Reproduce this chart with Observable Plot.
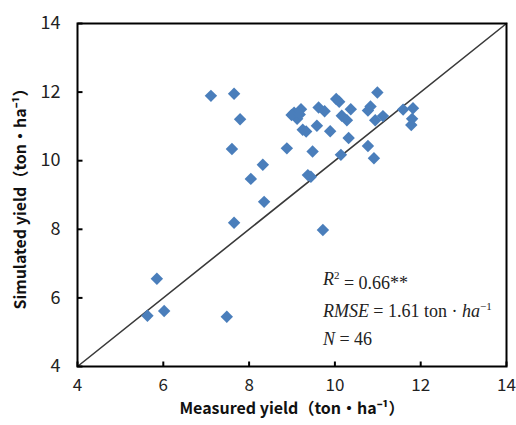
<!DOCTYPE html>
<html>
<head>
<meta charset="utf-8">
<script src="https://cdn.jsdelivr.net/npm/d3@7"></script>
<script src="https://cdn.jsdelivr.net/npm/@observablehq/plot@0.6"></script>
<style>
  html, body { margin: 0; padding: 0; background: #fff; }
</style>
</head>
<body>
<div id="chart"></div>
<script>
const measured = [7.11, 7.65, 7.79, 7.60, 8.88, 8.32, 8.04, 8.35, 7.65, 5.85,
  5.63, 6.02, 7.48, 9.72, 9.37, 9.44, 9.48, 10.14, 10.77, 10.91,
  10.32, 9.89, 9.58, 9.62, 9.76, 10.03, 10.10, 10.37, 10.99, 10.16,
  10.28, 10.77, 10.83, 10.94, 11.12, 11.59, 11.82, 11.80, 11.78, 9.05,
  9.21, 9.12, 9.25, 9.33, 8.99, 9.18];
const simulated = [11.89, 11.95, 11.21, 10.34, 10.36, 9.88, 9.47, 8.80, 8.19, 6.56,
  5.48, 5.62, 5.45, 7.98, 9.58, 9.53, 10.27, 10.17, 10.43, 10.07,
  10.66, 10.86, 11.02, 11.55, 11.44, 11.80, 11.72, 11.50, 11.99, 11.31,
  11.18, 11.46, 11.58, 11.18, 11.30, 11.49, 11.53, 11.22, 11.04, 11.40,
  11.50, 11.22, 10.90, 10.85, 11.33, 11.35];
const ticks = [4, 6, 8, 10, 12, 14];
const oneToOne = [4, 14];
const xLabel = "Measured yield（ton·ha⁻¹）";
const yLabel = "Simulated yield（ton·ha⁻¹）";
const statsX = 9.72;
const statsY = [6.54, 5.61, 4.79];
const statsText = ["R2 = 0.66**", "RMSE = 1.61 ton · ha-1", "N = 46"];

const points = measured.map((m, i) => ({measured: m, simulated: simulated[i]}));
const stats = statsText.map((t, i) => ({t, y: statsY[i]}));

const tickUp = {draw(ctx) { ctx.moveTo(0, 0); ctx.lineTo(0, -5); }};
const tickRight = {draw(ctx) { ctx.moveTo(0, 0); ctx.lineTo(5, 0); }};

const chart = Plot.plot({
  width: 516,
  height: 425,
  marginTop: 23,
  marginRight: 10,
  marginBottom: 59,
  marginLeft: 77,
  style: {fontFamily: "'Noto Sans CJK SC', 'Open Sans', sans-serif", fontSize: "18px", color: "#222", background: "#fff"},
  x: {domain: [4, 14]},
  y: {domain: [4, 14]},
  marks: [
    Plot.line(oneToOne, {x: d => d, y: d => d, stroke: "#3a3a3a", strokeWidth: 1.6}),
    Plot.dot(points, {x: "measured", y: "simulated", symbol: "diamond2", r: 5.6, fill: "#4a7ebb", stroke: "none"}),
    Plot.axisX({ticks, tickSize: 0, tickPadding: 12, fontSize: 17, label: null}),
    Plot.axisY({ticks, tickSize: 0, tickPadding: 17, fontSize: 18, label: null}),
    Plot.dot(ticks, {x: d => d, frameAnchor: "bottom", symbol: tickUp, r: 3, stroke: "#000", strokeWidth: 2}),
    Plot.dot(ticks, {y: d => d, frameAnchor: "left", symbol: tickRight, r: 3, stroke: "#000", strokeWidth: 2}),
    Plot.frame({stroke: "#000", strokeWidth: 2}),
    Plot.text([xLabel], {text: d => d, frameAnchor: "bottom", textAnchor: "middle", dy: 42, lineAnchor: "middle",
      fontSize: 16, fontWeight: "bold", fill: "#111"}),
    Plot.text([yLabel], {text: d => d, frameAnchor: "left", textAnchor: "middle", dx: -57, rotate: -90, lineAnchor: "middle",
      fontSize: 16, fontWeight: "bold", fill: "#111"}),
    Plot.text(stats, {x: () => statsX, y: "y", text: "t", textAnchor: "start", lineAnchor: "middle",
      fontFamily: "'Liberation Serif', 'Times New Roman', serif", fontSize: 18, fill: "#222", ariaDescription: "stats"})
  ]
});
document.getElementById("chart").appendChild(chart);

// rich formatting for the statistics annotation
const parts = [
  [["R", "i"], ["2", "sup"], [" = 0.66**", "n"]],
  [["RMSE", "i"], [" = 1.61 ton · ", "n"], ["ha", "i"], ["−1", "sup"]],
  [["N", "i"], [" = 46", "n"]]
];
d3.select(chart).selectAll('g[aria-description="stats"] text').each(function(d, i) {
  const t = d3.select(this);
  t.text(null);
  const p = parts[i];
  let shifted = false;
  p.forEach(([s, kind]) => {
    const ts = t.append("tspan").text(s);
    if (kind === "i") ts.attr("font-style", "italic");
    if (kind === "sup") { ts.attr("font-size", 11).attr("dy", "-0.6em"); shifted = true; }
    else if (shifted) { ts.attr("dy", "0.6em"); shifted = false; }
  });
});
</script>
</body>
</html>
